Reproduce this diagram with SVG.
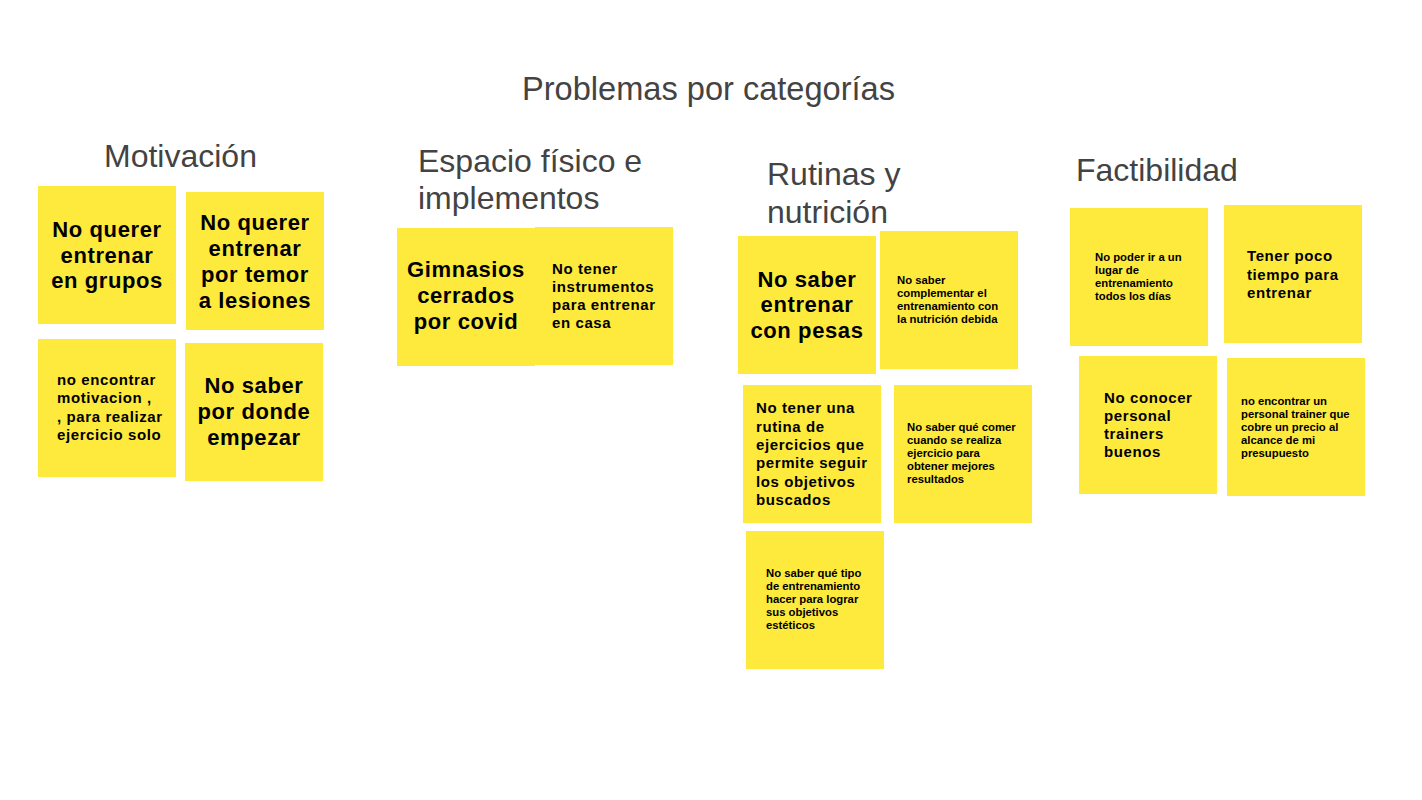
<svg xmlns="http://www.w3.org/2000/svg" width="1422" height="800" viewBox="0 0 1422 800">
<style>
.bg{fill:#ffffff}
.note{fill:#feea3d}
.h{font-family:"Liberation Sans",Arial,sans-serif;font-size:32px;fill:#434343}
.t{font-family:"Liberation Sans",Arial,sans-serif;font-weight:700;fill:#000}
.big{font-size:22px;letter-spacing:0.6px;text-anchor:middle}
.mid{font-size:15px;letter-spacing:0.6px}
.sm{font-size:11.3px}
</style>
<rect class="bg" x="0" y="0" width="1422" height="800"/>
<g id="titles">
<text class="h" x="522" y="100" style="font-size:32.6px">Problemas por categorías</text>
<text class="h" x="104" y="167">Motivación</text>
<text class="h" x="418" y="172">Espacio físico e</text>
<text class="h" x="418" y="209">implementos</text>
<text class="h" x="767" y="185">Rutinas y</text>
<text class="h" x="767" y="223">nutrición</text>
<text class="h" x="1076" y="181">Factibilidad</text>
</g>
<g id="connectors"></g>
<g id="note-a">
<rect class="note" x="38" y="186" width="138" height="138"/>
<text class="t big" x="107" y="237">No querer</text>
<text class="t big" x="107" y="263">entrenar</text>
<text class="t big" x="107" y="288">en grupos</text>
</g>
<g id="note-b">
<rect class="note" x="186" y="192" width="138" height="138"/>
<text class="t big" x="255" y="230">No querer</text>
<text class="t big" x="255" y="256">entrenar</text>
<text class="t big" x="255" y="282">por temor</text>
<text class="t big" x="255" y="308">a lesiones</text>
</g>
<g id="note-c">
<rect class="note" x="38" y="339" width="138" height="138"/>
<text class="t mid" x="57" y="385">no encontrar</text>
<text class="t mid" x="57" y="403">motivacion ,</text>
<text class="t mid" x="57" y="422">, para realizar</text>
<text class="t mid" x="57" y="440">ejercicio solo</text>
</g>
<g id="note-d">
<rect class="note" x="185" y="343" width="138" height="138"/>
<text class="t big" x="254" y="393">No saber</text>
<text class="t big" x="254" y="419">por donde</text>
<text class="t big" x="254" y="445">empezar</text>
</g>
<g id="note-e">
<rect class="note" x="397" y="228" width="138" height="138"/>
<text class="t big" x="466" y="277">Gimnasios</text>
<text class="t big" x="466" y="303">cerrados</text>
<text class="t big" x="466" y="329">por covid</text>
</g>
<g id="note-f">
<rect class="note" x="535" y="227" width="138" height="138"/>
<text class="t mid" x="552" y="274">No tener</text>
<text class="t mid" x="552" y="292">instrumentos</text>
<text class="t mid" x="552" y="310">para entrenar</text>
<text class="t mid" x="552" y="328">en casa</text>
</g>
<g id="note-g">
<rect class="note" x="738" y="236" width="138" height="138"/>
<text class="t big" x="807" y="287">No saber</text>
<text class="t big" x="807" y="312">entrenar</text>
<text class="t big" x="807" y="338">con pesas</text>
</g>
<g id="note-h">
<rect class="note" x="880" y="231" width="138" height="138"/>
<text class="t sm" x="897" y="284">No saber</text>
<text class="t sm" x="897" y="297">complementar el</text>
<text class="t sm" x="897" y="310">entrenamiento con</text>
<text class="t sm" x="897" y="323">la nutrición debida</text>
</g>
<g id="note-i">
<rect class="note" x="743" y="385" width="138" height="138"/>
<text class="t mid" x="756" y="413">No tener una</text>
<text class="t mid" x="756" y="432">rutina de</text>
<text class="t mid" x="756" y="450">ejercicios que</text>
<text class="t mid" x="756" y="468">permite seguir</text>
<text class="t mid" x="756" y="487">los objetivos</text>
<text class="t mid" x="756" y="505">buscados</text>
</g>
<g id="note-j">
<rect class="note" x="894" y="385" width="138" height="138"/>
<text class="t sm" x="907" y="431">No saber qué comer</text>
<text class="t sm" x="907" y="444">cuando se realiza</text>
<text class="t sm" x="907" y="457">ejercicio para</text>
<text class="t sm" x="907" y="470">obtener mejores</text>
<text class="t sm" x="907" y="483">resultados</text>
</g>
<g id="note-k">
<rect class="note" x="746" y="531" width="138" height="138"/>
<text class="t sm" x="766" y="577">No saber qué tipo</text>
<text class="t sm" x="766" y="590">de entrenamiento</text>
<text class="t sm" x="766" y="603">hacer para lograr</text>
<text class="t sm" x="766" y="616">sus objetivos</text>
<text class="t sm" x="766" y="629">estéticos</text>
</g>
<g id="note-l">
<rect class="note" x="1070" y="208" width="138" height="138"/>
<text class="t sm" x="1095" y="261">No poder ir a un</text>
<text class="t sm" x="1095" y="274">lugar de</text>
<text class="t sm" x="1095" y="287">entrenamiento</text>
<text class="t sm" x="1095" y="300">todos los días</text>
</g>
<g id="note-m">
<rect class="note" x="1224" y="205" width="138" height="138"/>
<text class="t mid" x="1247" y="261">Tener poco</text>
<text class="t mid" x="1247" y="280">tiempo para</text>
<text class="t mid" x="1247" y="298">entrenar</text>
</g>
<g id="note-n">
<rect class="note" x="1079" y="356" width="138" height="138"/>
<text class="t mid" x="1104" y="403">No conocer</text>
<text class="t mid" x="1104" y="421">personal</text>
<text class="t mid" x="1104" y="439">trainers</text>
<text class="t mid" x="1104" y="457">buenos</text>
</g>
<g id="note-o">
<rect class="note" x="1227" y="358" width="138" height="138"/>
<text class="t sm" x="1241" y="405">no encontrar un</text>
<text class="t sm" x="1241" y="418">personal trainer que</text>
<text class="t sm" x="1241" y="431">cobre un precio al</text>
<text class="t sm" x="1241" y="444">alcance de mi</text>
<text class="t sm" x="1241" y="457">presupuesto</text>
</g>
</svg>
